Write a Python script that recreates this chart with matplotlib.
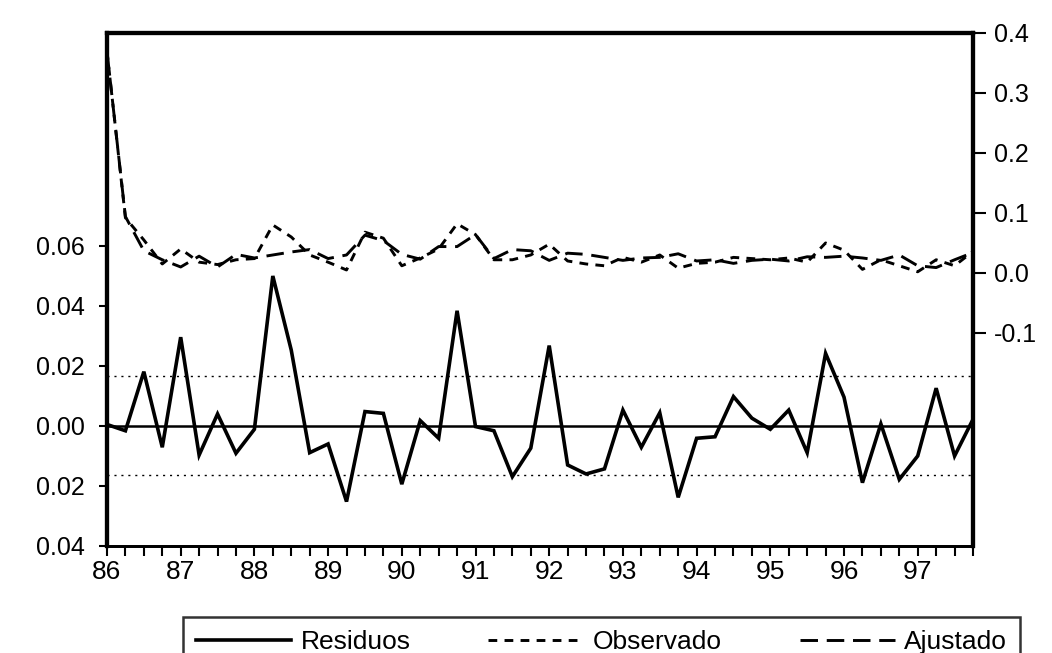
import numpy as np
import matplotlib
matplotlib.use("Agg")
import matplotlib.pyplot as plt
from matplotlib.ticker import FixedLocator, MultipleLocator

plt.rcParams['font.family'] = ['Liberation Sans', 'DejaVu Sans']

# trimestres 1986Q1 - 1997Q4
fechas = np.arange(1986, 1998, 0.25)

residuos = [0.0005, -0.0016, 0.0181, -0.0071, 0.0296, -0.0097, 0.0040, -0.0091,
            -0.0011, 0.0500, 0.0253, -0.0089, -0.0060, -0.0252, 0.0048, 0.0042,
            -0.0194, 0.0018, -0.0041, 0.0384, -0.0002, -0.0016, -0.0169, -0.0074,
            0.0268, -0.0130, -0.0160, -0.0143, 0.0053, -0.0071, 0.0044, -0.0238,
            -0.0041, -0.0036, 0.0098, 0.0026, -0.0011, 0.0053, -0.0089, 0.0242,
            0.0096, -0.0189, 0.0007, -0.0178, -0.0100, 0.0126, -0.0100, 0.0022]

observado = [0.370, 0.092, 0.055, 0.015, 0.040, 0.018, 0.014, 0.022,
             0.024, 0.080, 0.060, 0.030, 0.018, 0.005, 0.068, 0.058,
             0.012, 0.025, 0.040, 0.082, 0.064, 0.022, 0.022, 0.030,
             0.048, 0.020, 0.015, 0.012, 0.026, 0.018, 0.030, 0.008,
             0.016, 0.018, 0.026, 0.024, 0.022, 0.025, 0.018, 0.050,
             0.038, 0.006, 0.022, 0.012, 0.002, 0.022, 0.012, 0.036]

ajustado = [0.369, 0.094, 0.037, 0.022, 0.010, 0.028, 0.010, 0.031,
            0.025, 0.030, 0.035, 0.039, 0.024, 0.030, 0.063, 0.054,
            0.031, 0.023, 0.044, 0.044, 0.064, 0.024, 0.039, 0.037,
            0.021, 0.033, 0.031, 0.026, 0.021, 0.025, 0.026, 0.032,
            0.020, 0.022, 0.016, 0.021, 0.023, 0.020, 0.027, 0.026,
            0.028, 0.025, 0.021, 0.030, 0.012, 0.009, 0.022, 0.034]

desv = 0.0165  # banda de +/- una desviación típica

ticks_izq = [-0.04, -0.02, 0.0, 0.02, 0.04, 0.06]
etiq_izq = ['0.04', '0.02', '0.00', '0.02', '0.04', '0.06']
ticks_der = [-0.1, 0.0, 0.1, 0.2, 0.3, 0.4]
etiq_der = ['-0.1', '0.0', '0.1', '0.2', '0.3', '0.4']
anios = list(range(1986, 1998))
etiq_anios = [str(a)[2:] for a in anios]
nombres = ['Residuos', 'Observado', 'Ajustado']

fig = plt.figure(figsize=(10.52, 6.53), dpi=100)
ax = fig.add_axes([0.1017, 0.1639, 0.8232, 0.7856])
ax2 = ax.twinx()

# residuos en el eje izquierdo
l_res, = ax.plot(fechas, residuos, color='black', lw=2.6, solid_joinstyle='miter')
ax.axhline(0, color='black', lw=1.8)
ax.axhline(desv, color='black', lw=1.0, linestyle=(0, (1.5, 3.5)))
ax.axhline(-desv, color='black', lw=1.0, linestyle=(0, (1.5, 3.5)))
ax.set_ylim(-0.04, 0.131)
ax.set_xlim(fechas[0], fechas[-1])

# observado y ajustado en el eje derecho
l_obs, = ax2.plot(fechas, observado, color='black', lw=2.1, linestyle=(0, (3, 2.5)))
l_aju, = ax2.plot(fechas, ajustado, color='black', lw=2.1, linestyle=(0, (6, 3)))
ax2.set_ylim(-0.455, 0.4)

ax.yaxis.set_major_locator(FixedLocator(ticks_izq))
ax.set_yticklabels(etiq_izq)
ax2.yaxis.set_major_locator(FixedLocator(ticks_der))
ax2.set_yticklabels(etiq_der)
ax.xaxis.set_major_locator(FixedLocator(anios))
ax.set_xticklabels(etiq_anios)
ax.xaxis.set_minor_locator(MultipleLocator(0.25))

ax.tick_params(axis='y', direction='out', length=6, width=1.5, pad=10, labelsize=18)
ax2.tick_params(axis='y', direction='out', length=9, width=1.5, pad=6, labelsize=18)
ax.tick_params(axis='x', which='both', direction='out', length=7, width=1.5, pad=3, labelsize=19)

for a in (ax, ax2):
    for lado in ['left', 'right', 'top']:
        a.spines[lado].set_linewidth(3)
    a.spines['bottom'].set_linewidth(2)

y_top = 1 - 617 / 653
leg = fig.legend(handles=[l_res, l_obs, l_aju], labels=nombres,
                 loc='upper left', mode='expand',
                 bbox_to_anchor=(183 / 1052, y_top - 0.06, (1020 - 183) / 1052, 0.06),
                 ncol=3, fontsize=19, frameon=True, fancybox=False,
                 edgecolor='black', handlelength=3.6, handletextpad=0.35,
                 borderaxespad=0, borderpad=0.5)
leg.get_frame().set_linewidth(1.8)

fig.savefig('out.png', dpi=100)
